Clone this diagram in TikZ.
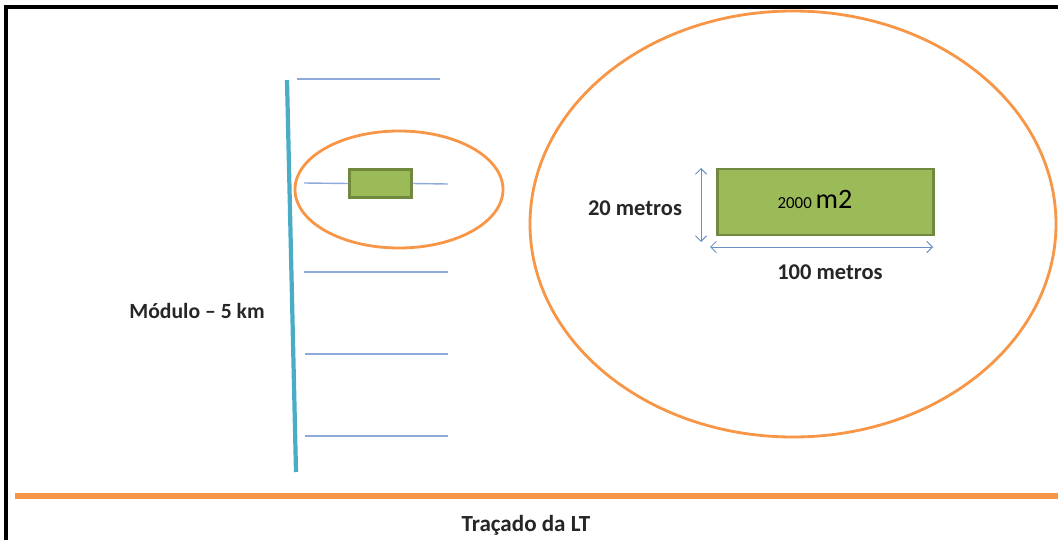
\documentclass[tikz,border=0pt]{standalone}
\usepackage{fontspec}
\setmainfont{Carlito}
\usepackage{tikz}
\usetikzlibrary{arrows.meta}
\definecolor{laranja}{HTML}{F79646}
\definecolor{azulclaro}{HTML}{4BACC6}
\definecolor{azullinha}{HTML}{8EAADB}
\definecolor{azulseta}{HTML}{6A8FC4}
\definecolor{verde}{HTML}{9BBB59}
\definecolor{verdeescuro}{HTML}{71893F}
\tikzstyle{arrow} = [{Straight Barb[length=4pt,width=8pt]}-{Straight Barb[length=4pt,width=8pt]},azulseta,line width=0.7pt]
\tikzstyle{area} = [draw=verdeescuro,fill=verde,line width=1.6pt,inner sep=0pt]
\tikzstyle{ramal} = [azullinha,line width=1.5pt]
\tikzstyle{faixa} = [laranja,line width=2pt]
\tikzstyle{rotulo} = [font=\bfseries,text=black!85,inner sep=0pt]

\begin{document}
\begin{tikzpicture}[x=0.025cm,y=-0.025cm]
        \useasboundingbox (0,0) rectangle (1058,540);
        \draw[line width=2.2pt] (6,540) -- (6,7) -- (1058,7);

        % linha de transmissao
        \coordinate (lt1) at (15,496);
        \coordinate (lt2) at (1058,496);
        \draw[laranja, line width=3.6pt] (lt1) -- (lt2);
        \node[rotulo, font=\bfseries\fontsize{16.4}{19}\selectfont] at (526,525) (tracado) {Traçado da LT};

        % modulo
        \coordinate (m1) at (287,80);
        \coordinate (m2) at (296,472);
        \draw[azulclaro, line width=3pt] (m1) -- (m2);
        \node[rotulo, font=\bfseries\fontsize{15.4}{18}\selectfont] at (197,311) (modulo) {Módulo – 5 km};

        \coordinate (r1a) at (297,79);  \coordinate (r1b) at (440,79);
        \coordinate (r3a) at (304,272); \coordinate (r3b) at (448,272);
        \coordinate (r4a) at (305,354); \coordinate (r4b) at (448,354);
        \coordinate (r5a) at (305,436); \coordinate (r5b) at (448,436);
        \draw[ramal] (r1a) -- (r1b);
        \draw[ramal] (r3a) -- (r3b);
        \draw[ramal] (r4a) -- (r4b);
        \draw[ramal] (r5a) -- (r5b);

        % ramal com area
        \node[area, minimum width=1.55cm, minimum height=0.7cm] at (380.5,183.5) (peq) {};
        \coordinate (r2a) at (304,183);
        \coordinate (r2b) at (448,184);
        \draw[ramal, line width=1pt] (r2a) -- (peq.west);
        \draw[ramal, line width=1pt] (peq.east) -- (r2b);
        \draw[faixa] (399,189.5) ellipse [x radius=104, y radius=58.5];

        % detalhe
        \draw[faixa] (793,224) ellipse [x radius=263, y radius=213];
        \node[area, minimum width=5.4cm, minimum height=1.65cm] at (825.5,202) (grande) {};
        \node at (815,199) (areatxt) {\fontsize{12}{13}\selectfont 2000 \fontsize{20}{22}\selectfont m2};
        \coordinate (v1) at (701,168);
        \coordinate (v2) at (701,242);
        \coordinate (h1) at (710,247);
        \coordinate (h2) at (933,247);
        \draw[arrow] (v1) -- (v2);
        \draw[arrow] (h1) -- (h2);
        \node[rotulo, font=\bfseries\fontsize{16}{19}\selectfont] at (635,208) (larg) {20 metros};
        \node[rotulo, font=\bfseries\fontsize{16}{19}\selectfont] at (830,272) (comp) {100 metros};
\end{tikzpicture}
\end{document}
